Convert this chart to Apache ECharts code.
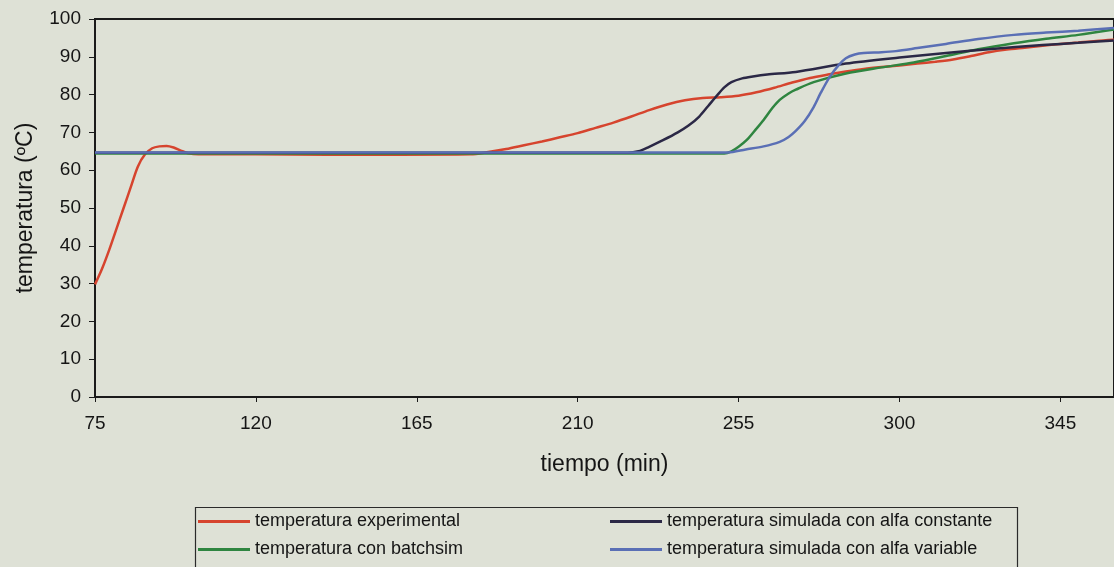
<!DOCTYPE html>
<html>
<head>
<meta charset="utf-8">
<script src="https://cdn.jsdelivr.net/npm/echarts@6/dist/echarts.min.js"></script>
<style>
html,body{margin:0;padding:0;background:#dee1d6;}
#chart{width:1114px;height:567px;}
</style>
</head>
<body>
<div id="chart"></div>
<script>
// ---- data ----
const seriesNames = [
  'temperatura experimental',
  'temperatura con batchsim',
  'temperatura simulada con alfa constante',
  'temperatura simulada con alfa variable'
];
const xTicks = [75, 120, 165, 210, 255, 300, 345];

const expX = [75, 77, 79, 81, 83, 85, 87, 89, 91, 93, 95, 97, 99, 101, 104, 120, 140, 160, 180, 185, 190, 195, 200, 205, 210, 215, 220, 225, 230, 235, 240, 245, 250, 255, 260, 265, 270, 275, 280, 285, 290, 295, 300, 305, 310, 315, 320, 325, 330, 335, 340, 345, 350, 355, 360];
const expY = [29.8, 34, 39, 44.5, 50, 55.5, 61, 64.2, 65.8, 66.3, 66.4, 66, 65.2, 64.5, 64.2, 64.2, 64.1, 64.1, 64.2, 64.8, 65.6, 66.6, 67.6, 68.7, 69.8, 71.2, 72.6, 74.2, 75.9, 77.4, 78.5, 79.1, 79.3, 79.7, 80.6, 81.8, 83.2, 84.4, 85.3, 86.1, 86.8, 87.3, 87.7, 88.2, 88.7, 89.3, 90.2, 91.2, 91.9, 92.4, 92.9, 93.4, 93.8, 94.2, 94.5];

const batchX = [75, 100, 150, 200, 251, 253, 255, 257.3, 260, 262, 264.5, 266.5, 269, 271, 276, 285, 295, 304, 313, 322, 332, 341, 350, 360];
const batchY = [64.4, 64.4, 64.4, 64.4, 64.4, 65, 66.2, 68, 71, 73.3, 76.5, 78.6, 80.3, 81.3, 83.3, 85.6, 87.2, 88.5, 90.2, 92, 93.6, 94.8, 95.8, 97.2];

const constX = [75, 100, 150, 200, 224, 227, 230, 234, 238, 241, 244, 246.5, 249, 251, 253, 256, 259, 263, 271, 285, 300, 313, 325, 340, 350, 360];
const constY = [64.6, 64.6, 64.6, 64.6, 64.6, 65, 66.2, 68, 70, 71.8, 74.2, 77, 79.8, 81.9, 83.3, 84.3, 84.8, 85.3, 86, 88.2, 89.8, 91, 92, 93.1, 93.7, 94.3];

const varX = [75, 100, 150, 200, 252, 257, 262, 266.5, 269, 271, 273.5, 276, 278, 280.5, 283, 285, 287.5, 290, 295, 299, 305, 313, 322, 332, 341, 350, 360];
const varY = [64.7, 64.7, 64.7, 64.7, 64.7, 65.5, 66.3, 67.5, 68.8, 70.4, 73, 76.7, 80.5, 84.7, 87.8, 89.6, 90.6, 91, 91.2, 91.5, 92.3, 93.4, 94.7, 95.8, 96.4, 96.9, 97.6];

const colors = ['#d6442e', '#2f8540', '#2b2846', '#5a6fb5'];
// ----------------------------------------------

function pairs(xs, ys) { return xs.map((x, i) => [x, ys[i]]); }
const allData = [pairs(expX, expY), pairs(batchX, batchY), pairs(constX, constY), pairs(varX, varY)];

const font = 'Liberation Sans, Arial, sans-serif';
const textColor = '#151515';

const legendCommon = {
  orient: 'vertical', top: 512, padding: 0,
  icon: 'rect', itemWidth: 52, itemHeight: 3, itemGap: 9,
  textStyle: {fontSize: 18, color: textColor, fontFamily: font, lineHeight: 19}
};

const chart = echarts.init(document.getElementById('chart'), null, {renderer: 'canvas'});
chart.setOption({
  backgroundColor: '#dee1d6',
  animation: false,
  textStyle: {fontFamily: font},
  grid: {left: 95, top: 19, right: -4, bottom: 170, show: true, borderColor: '#1a1a1a', borderWidth: 2, containLabel: false},
  xAxis: {
    type: 'value', min: 75, max: 360, interval: 45,
    axisLine: {show: true, lineStyle: {color: '#1a1a1a', width: 2}},
    axisTick: {show: true, length: 5, lineStyle: {color: '#1a1a1a', width: 1}},
    axisLabel: {fontSize: 19, color: textColor, margin: 17, fontFamily: font, showMaxLabel: false},
    splitLine: {show: false},
    name: 'tiempo (min)', nameLocation: 'middle', nameGap: 56,
    nameTextStyle: {fontSize: 23, color: textColor, fontFamily: font}
  },
  yAxis: {
    type: 'value', min: 0, max: 100, interval: 10,
    axisLine: {show: true, lineStyle: {color: '#1a1a1a', width: 2}},
    axisTick: {show: true, length: 6, lineStyle: {color: '#1a1a1a', width: 1}},
    axisLabel: {fontSize: 19, color: textColor, margin: 14, fontFamily: font},
    splitLine: {show: false},
    name: 'temperatura (ºC)', nameLocation: 'middle', nameGap: 58,
    nameTextStyle: {fontSize: 23, color: textColor, fontFamily: font}
  },
  legend: [
    Object.assign({data: [seriesNames[0], seriesNames[1]], left: 198}, legendCommon),
    Object.assign({data: [seriesNames[2], seriesNames[3]], left: 610}, legendCommon)
  ],
  graphic: [{
    type: 'rect', left: 193, top: 505, silent: true,
    shape: {width: 822, height: 80},
    style: {fill: 'none', stroke: '#2a2a2a', lineWidth: 1.2}
  }],
  series: seriesNames.map((n, i) => ({
    name: n, type: 'line', data: allData[i], color: colors[i],
    showSymbol: false, symbol: 'none', smooth: 0.3,
    lineStyle: {width: 2.5, color: colors[i]}
  }))
});
</script>
</body>
</html>
